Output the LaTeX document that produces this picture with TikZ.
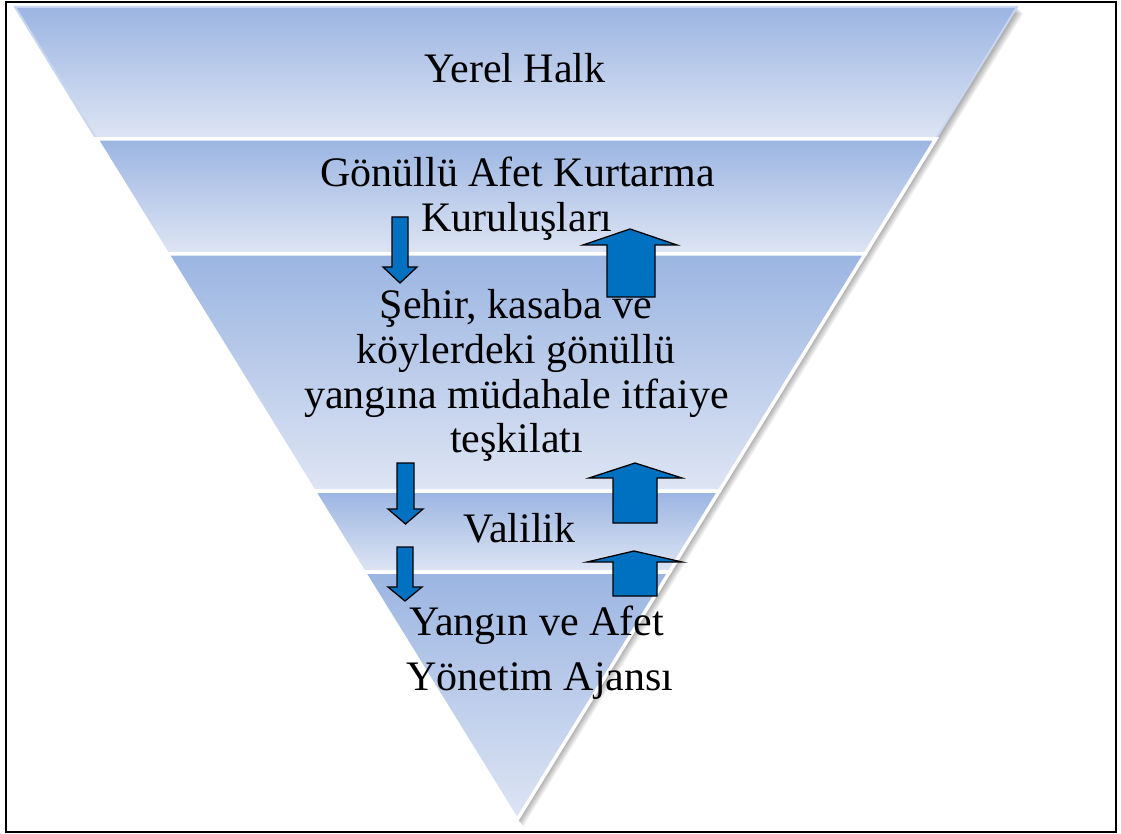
\documentclass[tikz,border=0pt]{standalone}
\usepackage{fontspec}
\setmainfont{Liberation Serif}
\definecolor{bandtop}{RGB}{155,181,226}
\definecolor{bandbot}{RGB}{222,229,244}
\definecolor{bandedge}{RGB}{200,214,239}
\definecolor{arrowblue}{RGB}{0,112,192}
\begin{document}
\begin{tikzpicture}[x=1pt,y=-1pt,
  band/.style={top color=bandtop, bottom color=bandbot, draw=white, line width=3.5pt, line join=miter},
  topband/.style={top color=bandtop, bottom color=bandbot, draw=bandedge, line width=2pt},
  blockarrow/.style={fill=arrowblue, draw=black, line width=1.3pt, line join=miter},
  label/.style={font=\fontsize{42}{45}\selectfont, anchor=base, inner sep=0pt, text=black}]
\useasboundingbox (0,0) rectangle (1121,834);

% pyramid edges: left x = 15+(y-7)*0.6175, right x = 1017-(y-7)*0.615
\def\Lx#1{15+(#1-7)*0.6175}
\def\Rx#1{1017-(#1-7)*0.615}

% soft drop shadow
\foreach \i in {1,...,7}
  \fill[black, opacity=0.06, shift={(\i*0.9,\i*0.9)}] (15,7) -- (1017,7) -- (517,820) -- cycle;

% bands, top to bottom
\path[topband] (15,7) -- (1017,7) -- ({\Rx{139}},139) -- ({\Lx{139}},139) -- cycle;
\path[band] ({\Lx{139}},139) -- ({\Rx{139}},139) -- ({\Rx{254}},254) -- ({\Lx{254}},254) -- cycle;
\path[band] ({\Lx{254}},254) -- ({\Rx{254}},254) -- ({\Rx{491}},491) -- ({\Lx{491}},491) -- cycle;
\path[band] ({\Lx{491}},491) -- ({\Rx{491}},491) -- ({\Rx{572}},572) -- ({\Lx{572}},572) -- cycle;
\path[band] ({\Lx{572}},572) -- ({\Rx{572}},572) -- (517,820) -- cycle;

% downward arrows
\draw[blockarrow] (392,217) -- (408,217) -- (408,267) -- (417,267) -- (400,283) -- (383,267) -- (392,267) -- cycle;
\draw[blockarrow] (397,463) -- (414,463) -- (414,509) -- (423,509) -- (405.5,524) -- (388,509) -- (397,509) -- cycle;
\draw[blockarrow] (397,547) -- (413,547) -- (413,587) -- (422,587) -- (405,601) -- (388,587) -- (397,587) -- cycle;

% upward arrows
\draw[blockarrow] (607,297) -- (655,297) -- (655,245) -- (677,245) -- (630,229) -- (583,245) -- (607,245) -- cycle;
\draw[blockarrow] (613,523) -- (657,523) -- (657,478) -- (682,478) -- (635,463) -- (589,478) -- (613,478) -- cycle;
\draw[blockarrow] (613,596) -- (657,596) -- (657,562) -- (682,562) -- (634,551) -- (587,562) -- (613,562) -- cycle;

% labels
\node[label] (halk) at (515,83) {Yerel Halk};
\node[label] (gon1) at (517.5,187) {Gönüllü Afet Kurtarma};
\node[label] (gon2) at (517,232) {Kuruluşları};
\node[label] (seh1) at (516,318) {Şehir, kasaba ve};
\node[label] (seh2) at (516,363) {köylerdeki gönüllü};
\node[label] (seh3) at (516.5,408) {yangına müdahale itfaiye};
\node[label] (seh4) at (516.5,452) {teşkilatı};
\node[label] (vali) at (519.5,542) {Valilik};
\node[label] (ajn1) at (536.5,635) {Yangın ve Afet};
\node[label] (ajn2) at (540,690) {Yönetim Ajansı};

% outer frame
\draw[line width=2pt] (6,2) rectangle (1116,832);
\end{tikzpicture}
\end{document}
